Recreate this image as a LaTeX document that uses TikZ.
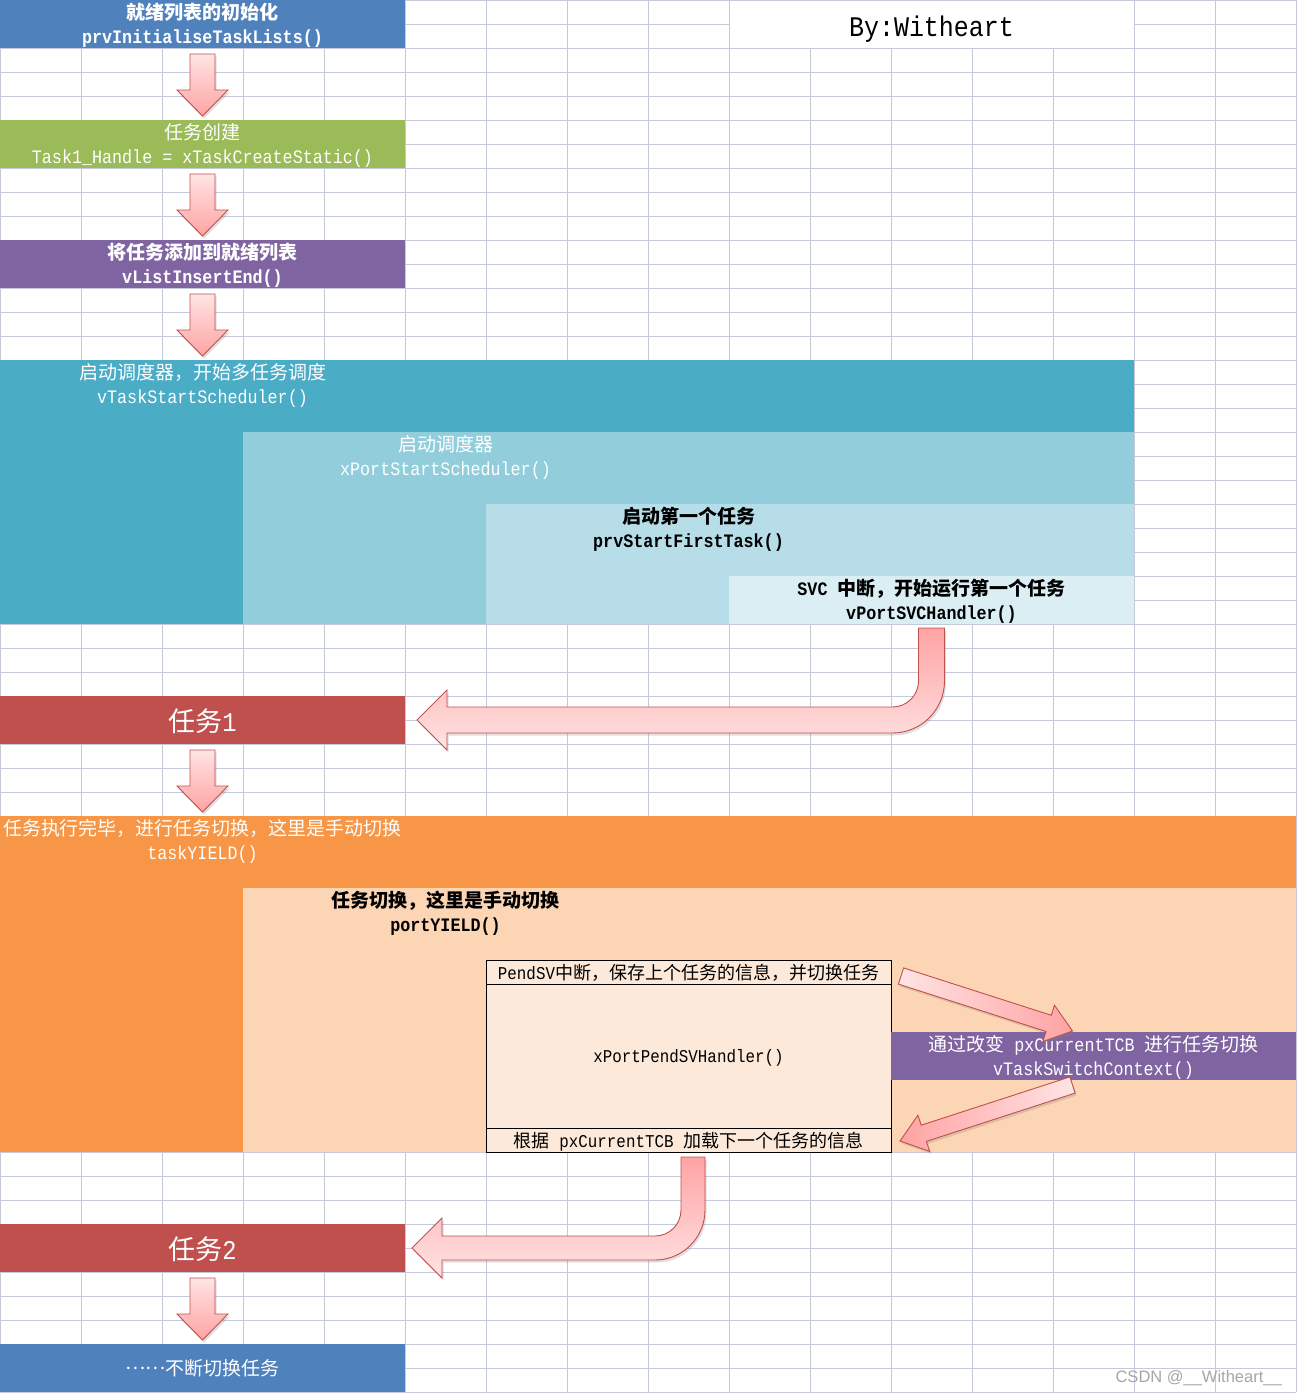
\documentclass[tikz,border=0pt]{standalone}
\usepackage{fontspec}
\setmainfont{Noto Sans CJK SC}
\newfontfamily\cd{Liberation Mono}[FakeStretch=0.88]
\newfontfamily\wmfont{Liberation Sans}
\usetikzlibrary{calc,shadows}
\definecolor{gridc}{HTML}{C4CAD9}
\definecolor{cblue}{HTML}{4F81BD}
\definecolor{cgreen}{HTML}{9BBB59}
\definecolor{cpurple}{HTML}{8064A2}
\definecolor{cteal}{HTML}{4BACC6}
\definecolor{cteala}{HTML}{92CDDC}
\definecolor{ctealb}{HTML}{B7DEE8}
\definecolor{ctealc}{HTML}{DAEEF3}
\definecolor{cred}{HTML}{C0504D}
\definecolor{corange}{HTML}{F79646}
\definecolor{cpeach}{HTML}{FCD5B4}
\definecolor{cpend}{HTML}{FDE9D9}
\definecolor{arrowlight}{HTML}{FFE4E4}
\definecolor{arrowdark}{HTML}{FFA3A3}
\definecolor{arrowedge}{HTML}{C0504D}
\newcommand\fsN{\fontsize{19}{24}\selectfont}
\newcommand\fsP{\fontsize{18}{24}\selectfont}
\newcommand\fsT{\fontsize{27}{30}\selectfont}
\tikzset{
  gridline/.style={draw=gridc, line width=0.8pt},
  cell/.style={rectangle, inner sep=0pt, outer sep=0pt, anchor=north west},
  txt/.style={anchor=base, inner sep=0pt, font=\fsN},
  blk/.style={draw=arrowedge, line width=0.9pt, line join=miter,
    drop shadow={shadow xshift=1.5pt, shadow yshift=-2.5pt, opacity=0.25}},
}
% straight down block arrow from node #1 to node #2
\newcommand\blkdown[2]{%
  \path[blk, top color=arrowlight, bottom color=arrowdark]
    let \p1=(#1.south), \p2=(#2.north) in
    (\x1-12.5pt,\y1-6pt) -- (\x1+12.5pt,\y1-6pt) -- (\x1+12.5pt,\y2+30pt)
    -- (\x1+25.5pt,\y2+30pt) -- (\x1,\y2+4pt) -- (\x1-25.5pt,\y2+30pt)
    -- (\x1-12.5pt,\y2+30pt) -- cycle;}
% bent block arrow: down from #1 then left into #2
\newcommand\blkcurve[6]{%
  \path[blk, top color=arrowdark, bottom color=arrowlight]
    let \p1=($(#1.south)+(#3,0)$), \p2=(#2.east) in
    (\x1-#6,\y1-#4) -- (\x1+#6,\y1-#4)
    -- (\x1+#6,\y2+#6+26pt)
    arc[start angle=0, end angle=-90, radius=26pt+2*#6]
    -- (\x2+#5+30pt,\y2-#6)
    -- (\x2+#5+30pt,\y2-30pt)
    -- (\x2+#5,\y2)
    -- (\x2+#5+30pt,\y2+30pt)
    -- (\x2+#5+30pt,\y2+#6)
    -- (\x1-#6-26pt,\y2+#6)
    arc[start angle=-90, end angle=0, radius=26pt]
    -- cycle;}
% straight block arrow between two coordinates
\newcommand\blkline[3]{%
  \coordinate (hb) at ($(#2)!25pt!(#1)$);
  \path[blk,#3] ($(#1)!8.5pt!90:(#2)$) -- ($(hb)!8.5pt!90:(#2)$)
    -- ($(hb)!19pt!90:(#2)$) -- (#2) -- ($(hb)!19pt!-90:(#2)$)
    -- ($(hb)!8.5pt!-90:(#2)$) -- ($(#1)!8.5pt!-90:(#2)$) -- cycle;}
\begin{document}
\begin{tikzpicture}[x=1pt,y=-1pt]
\useasboundingbox (0,0) rectangle (1297,1393);
\fill[white] (0,0) rectangle (1297,1393);
% spreadsheet grid
\foreach \i in {0,...,16} \draw[gridline] (\i*81,0) -- (\i*81,1392);
\foreach \j in {0,...,58} \draw[gridline] (0,\j*24) -- (1296,\j*24);
\node[cell, fill=white, draw=gridc, line width=0.8pt, minimum width=405pt, minimum height=48pt] (bycell) at (729,0) {};
\node[anchor=base, inner sep=0pt, font=\cd\fontsize{28.4}{30}\selectfont] (by) at (931.5,36) {By:Witheart};

% boxes
\node[cell, fill=cblue, minimum width=405pt, minimum height=48pt] (init) at (0,0) {};
\node[cell, fill=cgreen, minimum width=405pt, minimum height=48pt] (create) at (0,120) {};
\node[cell, fill=cpurple, minimum width=405pt, minimum height=48pt] (insert) at (0,240) {};
\node[cell, fill=cteal, minimum width=1134pt, minimum height=264pt] (sched) at (0,360) {};
\node[cell, fill=cteala, minimum width=891pt, minimum height=192pt] (portsched) at (243,432) {};
\node[cell, fill=ctealb, minimum width=648pt, minimum height=120pt] (first) at (486,504) {};
\node[cell, fill=ctealc, minimum width=405pt, minimum height=48pt] (svc) at (729,576) {};
\node[cell, fill=cred, minimum width=405pt, minimum height=48pt] (task1) at (0,696) {};
\node[cell, fill=corange, minimum width=1296pt, minimum height=336pt] (yield) at (0,816) {};
\node[cell, fill=cpeach, minimum width=1053pt, minimum height=264pt] (portyield) at (243,888) {};
\node[cell, fill=cpend, draw=black, line width=1pt, minimum width=405pt, minimum height=192pt] (pend) at (486,960) {};
\draw[black, line width=1pt] ([yshift=-24pt]pend.north west) -- ([yshift=-24pt]pend.north east);
\draw[black, line width=1pt] ([yshift=24pt]pend.south west) -- ([yshift=24pt]pend.south east);
\node[cell, fill=cpurple, minimum width=405pt, minimum height=48pt] (switch) at (891,1032) {};
\node[cell, fill=cred, minimum width=405pt, minimum height=48pt] (task2) at (0,1224) {};
\node[cell, fill=cblue, minimum width=405pt, minimum height=48pt] (loop) at (0,1344) {};

% texts
\node[txt, text=white, font=\fsN\bfseries] (init1) at (202.5,19.5) {就绪列表的初始化};
\node[txt, text=white, font=\fsN\bfseries\cd] (init2) at (202.5,43.5) {prvInitialiseTaskLists()};
\node[txt, text=white] (create1) at (202.5,139.5) {任务创建};
\node[txt, text=white, font=\fsN\cd] (create2) at (202.5,163.5) {Task1\_Handle = xTaskCreateStatic()};
\node[txt, text=white, font=\fsN\bfseries] (insert1) at (202.5,259.5) {将任务添加到就绪列表};
\node[txt, text=white, font=\fsN\bfseries\cd] (insert2) at (202.5,283.5) {vListInsertEnd()};
\node[txt, text=white] (sched1) at (202.5,379.5) {启动调度器，开始多任务调度};
\node[txt, text=white, font=\fsN\cd] (sched2) at (202.5,403.5) {vTaskStartScheduler()};
\node[txt, text=white] (psched1) at (445.5,451.5) {启动调度器};
\node[txt, text=white, font=\fsN\cd] (psched2) at (445.5,475.5) {xPortStartScheduler()};
\node[txt, font=\fsN\bfseries] (first1) at (688.5,523.5) {启动第一个任务};
\node[txt, font=\fsN\bfseries\cd] (first2) at (688.5,547.5) {prvStartFirstTask()};
\node[txt, font=\fsN\bfseries] (svc1) at (931.5,595.5) {{\cd SVC }中断，开始运行第一个任务};
\node[txt, font=\fsN\bfseries\cd] (svc2) at (931.5,619.5) {vPortSVCHandler()};
\node[txt, text=white, font=\fsT] (task1t) at (202.5,731) {任务{\cd 1}};
\node[txt, text=white] (yield1) at (202.5,835.5) {任务执行完毕，进行任务切换，这里是手动切换};
\node[txt, text=white, font=\fsN\cd] (yield2) at (202.5,859.5) {taskYIELD()};
\node[txt, font=\fsN\bfseries] (pyield1) at (445.5,907.5) {任务切换，这里是手动切换};
\node[txt, font=\fsN\bfseries\cd] (pyield2) at (445.5,931.5) {portYIELD()};
\node[txt, font=\fsP] (pend1) at (688.5,979.5) {{\cd PendSV}中断，保存上个任务的信息，并切换任务};
\node[txt, font=\fsP\cd] (pend2) at (688.5,1062.5) {xPortPendSVHandler()};
\node[txt, font=\fsP] (pend3) at (688.5,1147.5) {根据{\cd\ pxCurrentTCB }加载下一个任务的信息};
\node[txt, text=white] (switch1) at (1093.5,1051.5) {通过改变{\cd\ pxCurrentTCB }进行任务切换};
\node[txt, text=white, font=\fsN\cd] (switch2) at (1093.5,1075.5) {vTaskSwitchContext()};
\node[txt, text=white, font=\fsT] (task2t) at (202.5,1259) {任务{\cd 2}};
\node[txt, text=white] (loop1) at (202.5,1375.5) {\raisebox{6pt}{……}不断切换任务};
\node[anchor=base east, inner sep=0pt, text=black!35, font=\wmfont\fontsize{16.5}{20}\selectfont] (wm) at (1282,1382) {CSDN @\_\_Witheart\_\_};

% arrows
\blkdown{init}{create}
\blkdown{create}{insert}
\blkdown{insert}{sched}
\blkcurve{svc}{task1}{0}{4pt}{12pt}{13pt}
\blkdown{task1}{yield}
\coordinate (aT) at ($(pend.north east)+(10,16)$);
\coordinate (aP) at ($(switch.north)+(-21,-1)$);
\coordinate (bT) at ($(switch.south)+(-21,5)$);
\coordinate (bP) at ($(pend.south east)+(9,-11)$);
\blkline{aT}{aP}{left color=arrowlight, right color=arrowdark}
\blkline{bT}{bP}{left color=arrowdark, right color=arrowlight}
\blkcurve{pend}{task2}{4.5}{5pt}{7pt}{12pt}
\blkdown{task2}{loop}
\end{tikzpicture}
\end{document}
